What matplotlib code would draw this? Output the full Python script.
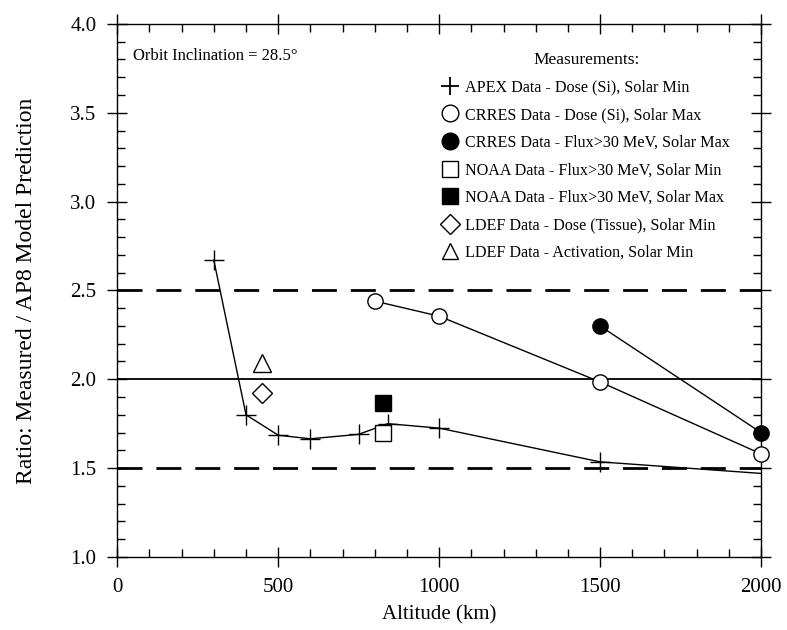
import matplotlib.pyplot as plt
from matplotlib.lines import Line2D
from matplotlib.ticker import MultipleLocator

plt.rcParams['font.family'] = ['Liberation Serif', 'DejaVu Serif']

# data
apex_alt = [300, 400, 500, 600, 750, 840, 1000, 1500, 2000]
apex_ratio = [2.67, 1.80, 1.685, 1.665, 1.69, 1.75, 1.725, 1.535, 1.47]
apex_marked = 8  # last point is only the end of the curve

crres_dose_alt = [800, 1000, 1500, 2000]
crres_dose_ratio = [2.44, 2.355, 1.985, 1.58]

crres_flux_alt = [1500, 2000]
crres_flux_ratio = [2.30, 1.70]

noaa_min_alt = [825]
noaa_min_ratio = [1.70]
noaa_max_alt = [825]
noaa_max_ratio = [1.865]

ldef_dose_alt = [450]
ldef_dose_ratio = [1.92]
ldef_act_alt = [450]
ldef_act_ratio = [2.09]

labels = ["APEX Data - Dose (Si), Solar Min",
          "CRRES Data - Dose (Si), Solar Max",
          "CRRES Data - Flux>30 MeV, Solar Max",
          "NOAA Data - Flux>30 MeV, Solar Min",
          "NOAA Data - Flux>30 MeV, Solar Max",
          "LDEF Data - Dose (Tissue), Solar Min",
          "LDEF Data - Activation, Solar Min"]

fig = plt.figure(figsize=(7.87, 6.3), dpi=100)
ax = fig.add_axes([0.149, 0.116, 0.818, 0.846])

ax.axhline(2.0, color='k', lw=1.3)
ax.axhline(2.5, color='k', lw=2, dashes=(9, 5))
ax.axhline(1.5, color='k', lw=2, dashes=(9, 5))

k = 'k'
ax.plot(apex_alt, apex_ratio, color=k, lw=1)
ax.plot(apex_alt[:apex_marked], apex_ratio[:apex_marked], ls='none',
        marker='+', ms=14, mew=1, color=k)
ax.plot(crres_dose_alt, crres_dose_ratio, color=k, lw=1, marker='o', ms=11,
        mfc='white', mec=k, mew=1, clip_on=False, zorder=3)
ax.plot(crres_flux_alt, crres_flux_ratio, color=k, lw=1, marker='o', ms=11,
        mfc=k, mec=k, clip_on=False, zorder=3)
ax.plot(noaa_min_alt, noaa_min_ratio, ls='none', marker='s', ms=12,
        mfc='white', mec=k, mew=1)
ax.plot(noaa_max_alt, noaa_max_ratio, ls='none', marker='s', ms=12,
        mfc=k, mec=k)
ax.plot(ldef_dose_alt, ldef_dose_ratio, ls='none', marker='D', ms=10,
        mfc='white', mec=k, mew=1)
ax.plot(ldef_act_alt, ldef_act_ratio, ls='none', marker='^', ms=13,
        mfc='white', mec=k, mew=1)

ax.set_xlim(0, 2000)
ax.set_ylim(1.0, 4.0)
ax.xaxis.set_major_locator(MultipleLocator(500))
ax.xaxis.set_minor_locator(MultipleLocator(100))
ax.yaxis.set_major_locator(MultipleLocator(0.5))
ax.yaxis.set_minor_locator(MultipleLocator(0.1))
ax.yaxis.set_major_formatter(plt.FormatStrFormatter('%.1f'))
ax.tick_params(which='major', direction='inout', length=14, width=1,
               top=True, right=True, labelsize=15, pad=8)
ax.tick_params(which='minor', direction='in', length=6, width=1,
               top=True, right=True)
for s in ax.spines.values():
    s.set_linewidth(1)

ax.set_xlabel("Altitude (km)", fontsize=15, labelpad=6)
ax.set_ylabel("Ratio: Measured / AP8 Model Prediction", fontsize=17, labelpad=24)

ax.text(0.025, 0.955, "Orbit Inclination = 28.5°", transform=ax.transAxes,
        fontsize=12, va='top')

handles = [
    Line2D([], [], ls='none', marker='+', ms=13, mew=1.3, color=k),
    Line2D([], [], ls='none', marker='o', ms=12, mfc='white', mec=k),
    Line2D([], [], ls='none', marker='o', ms=12, mfc=k, mec=k),
    Line2D([], [], ls='none', marker='s', ms=12, mfc='white', mec=k),
    Line2D([], [], ls='none', marker='s', ms=12, mfc=k, mec=k),
    Line2D([], [], ls='none', marker='D', ms=10, mfc='white', mec=k),
    Line2D([], [], ls='none', marker='^', ms=12, mfc='white', mec=k),
]
leg = ax.legend(handles, labels, title="Measurements:", loc='upper left',
                bbox_to_anchor=(0.485, 0.975), frameon=False, fontsize=11.6,
                title_fontsize=12.5, handlelength=0.8, handletextpad=0.5,
                labelspacing=0.72)

fig.savefig("out.png", dpi=100)
